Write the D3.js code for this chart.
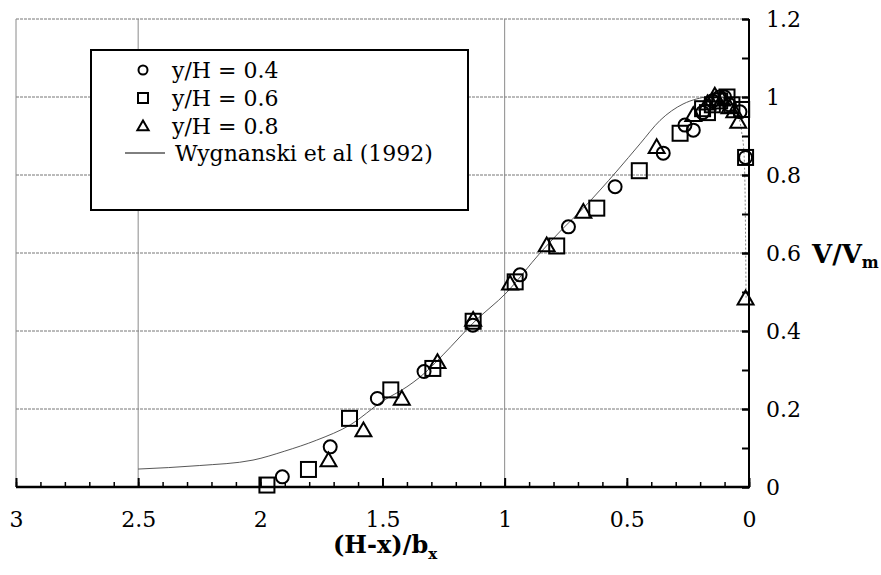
<!DOCTYPE html>
<html>
<head>
<meta charset="utf-8">
<script src="https://cdnjs.cloudflare.com/ajax/libs/d3/7.8.5/d3.min.js"></script>
<style>
  body { margin: 0; background: #fff; }
  svg { display: block; font-family: "DejaVu Serif", serif; }
</style>
</head>
<body>
<div id="graph"></div>
<script>
// measured data, y/H = 0.4 (circles)
var circleX = [1.91, 1.714, 1.521, 1.33, 1.13, 0.937, 0.739, 0.548, 0.351, 0.262, 0.228, 0.19, 0.15, 0.12, 0.10, 0.08, 0.037, 0.014]
var circleY = [0.026, 0.103, 0.227, 0.296, 0.415, 0.544, 0.667, 0.770, 0.856, 0.928, 0.915, 0.96, 0.99, 1.0, 1.0, 0.98, 0.962, 0.845]

// y/H = 0.6 (squares)
var squareX = [1.973, 1.803, 1.635, 1.466, 1.294, 1.129, 0.957, 0.787, 0.623, 0.449, 0.282, 0.19, 0.17, 0.15, 0.12, 0.09, 0.07, 0.03, 0.014]
var squareY = [0.005, 0.045, 0.176, 0.249, 0.304, 0.425, 0.526, 0.618, 0.715, 0.811, 0.907, 0.97, 0.96, 0.98, 0.99, 1.0, 0.98, 0.968, 0.845]

// y/H = 0.8 (triangles)
var triX = [1.721, 1.578, 1.421, 1.275, 1.129, 0.978, 0.828, 0.678, 0.378, 0.228, 0.17, 0.14, 0.11, 0.08, 0.06, 0.044, 0.014]
var triY = [0.065, 0.142, 0.223, 0.317, 0.425, 0.518, 0.616, 0.702, 0.868, 0.95, 0.98, 1.0, 0.99, 0.97, 0.96, 0.933, 0.48]

// Wygnanski et al (1992) curve
var curveX = [2.5, 2.25, 2.03, 1.9, 1.77, 1.63, 1.5, 1.4, 1.35, 1.22, 1.13, 0.99, 0.855, 0.766, 0.678, 0.541, 0.446, 0.364, 0.27, 0.214, 0.17, 0.12, 0.08, 0.05, 0.03, 0.02, 0.015, 0.012]
var curveY = [0.046, 0.055, 0.069, 0.092, 0.12, 0.16, 0.22, 0.257, 0.28, 0.36, 0.42, 0.50, 0.60, 0.66, 0.715, 0.81, 0.88, 0.94, 0.982, 0.995, 1.0, 1.0, 0.99, 0.96, 0.91, 0.85, 0.7, 0.48]

var xTicks = [3, 2.5, 2, 1.5, 1, 0.5, 0]
var yTicks = [0, 0.2, 0.4, 0.6, 0.8, 1, 1.2]
var xGrid = [2.5, 1]
var legendLabels = ["y/H = 0.4", "y/H = 0.6", "y/H = 0.8", "Wygnanski et al (1992)"]

var width = 881, height = 575
var margin = { top: 19, right: 132, bottom: 88, left: 16 }

var svg = d3.select("#graph").append("svg")
  .attr("width", width)
  .attr("height", height)

var x = d3.scaleLinear().domain([3, 0]).range([margin.left, width - margin.right])
var y = d3.scaleLinear().domain([0, 1.2]).range([height - margin.bottom, margin.top])

// gridlines
svg.append("g").selectAll("line").data(yTicks.filter(d => d > 0))
  .enter().append("line")
  .attr("x1", x(3)).attr("x2", x(0))
  .attr("y1", d => y(d)).attr("y2", d => y(d))
  .attr("stroke", "#777").attr("stroke-width", 1)
  .attr("stroke-dasharray", "3,1")

svg.append("g").selectAll("line").data(xGrid)
  .enter().append("line")
  .attr("x1", d => x(d)).attr("x2", d => x(d))
  .attr("y1", y(1.2)).attr("y2", y(0))
  .attr("stroke", "#8a8a8a").attr("stroke-width", 1)

// left border of plot area
svg.append("line")
  .attr("x1", x(3)).attr("x2", x(3))
  .attr("y1", y(1.2)).attr("y2", y(0))
  .attr("stroke", "#8a8a8a").attr("stroke-width", 1)

// curve: solid body, faint dotted tail near the wall
var pts = curveX.map((d, i) => [d, curveY[i]])
var curve = d3.line()
  .x(d => x(d[0]))
  .y(d => y(d[1]))
  .curve(d3.curveMonotoneX)

svg.append("path")
  .datum(pts.filter(d => d[0] >= 0.05))
  .attr("d", curve)
  .attr("fill", "none")
  .attr("stroke", "#444")
  .attr("stroke-width", 0.9)

svg.append("path")
  .datum(pts.filter(d => d[0] <= 0.05))
  .attr("d", curve)
  .attr("fill", "none")
  .attr("stroke", "#777")
  .attr("stroke-width", 0.9)
  .attr("stroke-dasharray", "2,2")

// markers
var markers = svg.append("g")
  .attr("fill", "none").attr("stroke", "#000").attr("stroke-width", 2)

markers.selectAll("circle").data(circleX).enter().append("circle")
  .attr("cx", d => x(d))
  .attr("cy", (d, i) => y(circleY[i]))
  .attr("r", 6.5)

markers.selectAll("rect").data(squareX).enter().append("rect")
  .attr("x", d => x(d) - 7.5)
  .attr("y", (d, i) => y(squareY[i]) - 7.5)
  .attr("width", 15).attr("height", 15)

var triSym = d3.symbol().type(d3.symbolTriangle).size(110)
markers.selectAll("path.tri").data(triX).enter().append("path")
  .attr("class", "tri")
  .attr("d", triSym)
  .attr("transform", (d, i) => "translate(" + x(d) + "," + y(triY[i]) + ")")

// x axis
var xAxis = d3.axisBottom(x).tickValues(xTicks).tickSize(-9).tickPadding(0)
  .tickFormat(d => String(d))
var gx = svg.append("g")
  .attr("transform", "translate(0," + y(0) + ")")
  .call(xAxis)
gx.select(".domain").remove()
gx.selectAll(".tick line").attr("stroke", "#000").attr("stroke-width", 2)
gx.selectAll(".tick text")
  .attr("y", 40).attr("dy", null)
  .style("font-size", "22px").style("font-family", "DejaVu Serif").attr("fill", "#000")

var xMinor = d3.axisBottom(x).tickValues(d3.range(0, 31).map(i => i / 10)).tickSize(-5).tickFormat("")
var gxm = svg.append("g")
  .attr("transform", "translate(0," + y(0) + ")")
  .call(xMinor)
gxm.select(".domain").remove()
gxm.selectAll(".tick line").attr("stroke", "#000").attr("stroke-width", 1.5)

svg.append("line")
  .attr("x1", x(3)).attr("x2", x(0) + 1)
  .attr("y1", y(0)).attr("y2", y(0))
  .attr("stroke", "#000").attr("stroke-width", 2.5)

// y axis on the right
var yAxis = d3.axisRight(y).tickValues(yTicks).tickSize(-7).tickPadding(17)
  .tickFormat(d => String(d))
var gy = svg.append("g")
  .attr("transform", "translate(" + x(0) + ",0)")
  .call(yAxis)
gy.select(".domain").remove()
gy.selectAll(".tick line").attr("stroke", "#000").attr("stroke-width", 2)
gy.selectAll(".tick text")
  .attr("dy", "0.36em")
  .style("font-size", "22px").style("font-family", "DejaVu Serif").attr("fill", "#000")

var yMinor = d3.axisRight(y).tickValues(d3.range(0, 13).map(i => i / 10)).tickSize(-7).tickFormat("")
var gym = svg.append("g")
  .attr("transform", "translate(" + x(0) + ",0)")
  .call(yMinor)
gym.select(".domain").remove()
gym.selectAll(".tick line").attr("stroke", "#000").attr("stroke-width", 2)

svg.append("line")
  .attr("x1", x(0)).attr("x2", x(0))
  .attr("y1", y(1.2)).attr("y2", y(0))
  .attr("stroke", "#000").attr("stroke-width", 2)

// axis titles
var xt = svg.append("text")
  .attr("x", 333).attr("y", 553)
  .style("font-size", "24px").style("font-weight", "bold")
xt.append("tspan").text("(H-x)/b")
xt.append("tspan").attr("dy", 6).style("font-size", "15px").text("x")

var yt = svg.append("text")
  .attr("x", 812).attr("y", 263)
  .style("font-size", "26px").style("font-weight", "bold")
yt.append("tspan").text("V/V")
yt.append("tspan").attr("dy", 5).style("font-size", "16px").text("m")

// legend
var leg = svg.append("g")
leg.append("rect")
  .attr("x", 91).attr("y", 50).attr("width", 377).attr("height", 160)
  .attr("fill", "#fff").attr("stroke", "#000").attr("stroke-width", 2)

var rowY = [70, 98, 126, 153]
var lm = leg.append("g").attr("fill", "none").attr("stroke", "#000").attr("stroke-width", 2)
lm.append("circle").attr("cx", 143).attr("cy", rowY[0]).attr("r", 4.5)
lm.append("rect").attr("x", 138).attr("y", rowY[1] - 5).attr("width", 10).attr("height", 10)
lm.append("path").attr("d", d3.symbol().type(d3.symbolTriangle).size(55))
  .attr("transform", "translate(143," + (rowY[2] + 1) + ")")
leg.append("line")
  .attr("x1", 125).attr("x2", 165).attr("y1", rowY[3]).attr("y2", rowY[3])
  .attr("stroke", "#000").attr("stroke-width", 1)

leg.selectAll("text.lab").data(legendLabels).enter().append("text")
  .attr("class", "lab")
  .attr("x", (d, i) => i === 3 ? 175 : 172)
  .attr("y", (d, i) => rowY[i] + 8)
  .style("font-size", "22px")
  .text(d => d)
</script>
</body>
</html>
